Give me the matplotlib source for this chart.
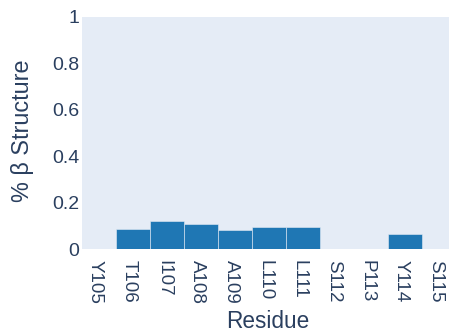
import matplotlib
matplotlib.use("Agg")
import matplotlib.pyplot as plt
import matplotlib.transforms as mtransforms

residues = ["Y105", "T106", "I107", "A108", "A109", "L110",
            "L111", "S112", "P113", "Y114", "S115"]
beta_fraction = [0.0, 0.087, 0.122, 0.108, 0.083, 0.095,
                 0.095, 0.0, 0.0, 0.065, 0.0]
y_ticks = [0, 0.2, 0.4, 0.6, 0.8, 1]
y_tick_labels = ["0", "0.2", "0.4", "0.6", "0.8", "1"]

text_color = "#2a3f5f"
plt.rcParams["font.family"] = ["Liberation Sans", "DejaVu Sans"]

W, H = 449, 336
fig = plt.figure(figsize=(W / 100, H / 100), dpi=100)
ax = fig.add_axes([82 / W, 1 - 249.3 / H, 374 / W, 232.6 / H])
ax.set_facecolor("#E5ECF6")

x = list(range(len(residues)))
ax.bar(x, beta_fraction, width=1.0, color="#1f77b4",
       edgecolor="#E5ECF6", linewidth=0.4)

ax.set_xlim(-0.5, len(residues) - 0.5)
ax.set_ylim(0, 1)
for s in ax.spines.values():
    s.set_visible(False)

ax.set_yticks(y_ticks)
ax.set_yticklabels(y_tick_labels, fontsize=14, color=text_color)
ax.set_xticks(x)
ax.set_xticklabels(residues, rotation=-90, fontsize=13.5, color=text_color,
                   va="top", ha="center")
ax.tick_params(axis="both", length=0)
ax.tick_params(axis="y", pad=2)
ax.tick_params(axis="x", pad=7.5)

shift = mtransforms.ScaledTranslation(-3.5 / 100, 0, fig.dpi_scale_trans)
for lbl in ax.get_xticklabels():
    lbl.set_transform(lbl.get_transform() + shift)

ax.set_xlabel("Residue", fontsize=16.3, color=text_color, va="center")
ax.set_ylabel("% β Structure", fontsize=16.8, color=text_color, va="center")
ax.xaxis.set_label_coords(268 / W, 1 - 321 / H, transform=fig.transFigure)
ax.yaxis.set_label_coords(23 / W, 1 - 131 / H, transform=fig.transFigure)

fig.savefig("out.png", dpi=100)
